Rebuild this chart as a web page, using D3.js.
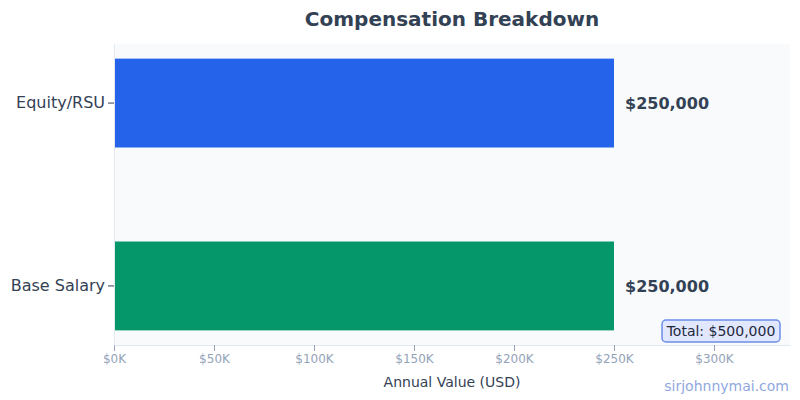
<!DOCTYPE html>
<html><head><meta charset="utf-8">
<script src="https://cdn.jsdelivr.net/npm/d3@7"></script>
<style>body{margin:0;background:#fff;font-family:"DejaVu Sans",sans-serif}</style>
</head><body>
<script>
// chart data
const categories = ["Base Salary", "Equity/RSU"];
const values = [250000, 250000];
const colors = ["#059669", "#2563eb"];
const tickValues = [0, 50000, 100000, 150000, 200000, 250000, 300000];

const W = 800, H = 400;
const m = {top: 44, right: 10, bottom: 55, left: 114};

const svg = d3.select("body").append("svg").attr("width", W).attr("height", H);

const x = d3.scaleLinear().domain([0, 338000]).range([m.left, W - m.right]);
const y = d3.scaleBand().domain(categories).range([H - m.bottom, m.top]).paddingInner(0.514).paddingOuter(0.08);

// plot background
svg.append("rect").attr("x", m.left).attr("y", m.top)
  .attr("width", W - m.right - m.left).attr("height", H - m.bottom - m.top)
  .attr("fill", "#f8fafc");

svg.append("text").attr("x", 452).attr("y", 26).attr("text-anchor", "middle")
  .attr("font-size", 20).attr("font-weight", "bold").attr("fill", "#334155")
  .text("Compensation Breakdown");

svg.selectAll("rect.bar").data(categories).join("rect").attr("class", "bar")
  .attr("x", x(0)).attr("y", d => y(d))
  .attr("width", (d, i) => x(values[i]) - x(0)).attr("height", y.bandwidth())
  .attr("fill", (d, i) => colors[i]);

svg.selectAll("text.val").data(categories).join("text").attr("class", "val")
  .attr("x", (d, i) => x(values[i]) + 11).attr("y", d => y(d) + y.bandwidth() / 2)
  .attr("dy", "0.35em").attr("font-size", 16).attr("font-weight", "bold").attr("fill", "#334155")
  .text((d, i) => "$" + d3.format(",")(values[i]));

// x axis
const xa = svg.append("g").attr("transform", `translate(0,${H - m.bottom})`)
  .call(d3.axisBottom(x).tickValues(tickValues).tickFormat(d => "$" + d / 1000 + "K").tickSizeOuter(0));
xa.select(".domain").attr("stroke", "#e2e8f0");
xa.selectAll(".tick line").attr("stroke", "#94a3b8");
xa.selectAll("text").attr("fill", "#94a3b8").attr("font-size", 12).attr("font-family", "DejaVu Sans");

// y axis
const ya = svg.append("g").attr("transform", `translate(${m.left},0)`)
  .call(d3.axisLeft(y).tickSizeOuter(0));
ya.select(".domain").attr("stroke", "#e2e8f0");
ya.selectAll(".tick line").attr("stroke", "#334155");
ya.selectAll("text").attr("fill", "#334155").attr("font-size", 16).attr("font-family", "DejaVu Sans");

svg.append("text").attr("x", 452).attr("y", 387).attr("text-anchor", "middle")
  .attr("font-size", 14).attr("fill", "#334155").text("Annual Value (USD)");

// total box
const total = d3.sum(values);
svg.append("rect").attr("x", 662).attr("y", 320).attr("width", 118).attr("height", 22).attr("rx", 4)
  .attr("fill", "#e0e7ff").attr("stroke", "#6b8ee8").attr("stroke-width", 1.5);
svg.append("text").attr("x", 721).attr("y", 331).attr("dy", "0.35em").attr("text-anchor", "middle")
  .attr("font-size", 14).attr("fill", "#1e293b").text("Total: $" + d3.format(",")(total));

svg.append("text").attr("x", 789).attr("y", 391).attr("text-anchor", "end")
  .attr("font-size", 14).attr("fill", "#8fa8e0").text("sirjohnnymai.com");
</script>
</body></html>
